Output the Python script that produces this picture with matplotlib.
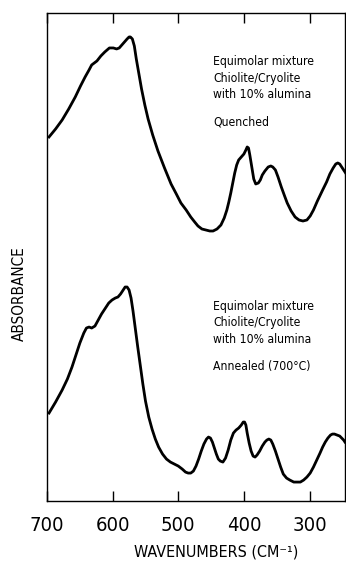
import matplotlib
matplotlib.use("Agg")
import matplotlib.pyplot as plt

plt.rcParams['font.family'] = ['DejaVu Sans']
plt.rcParams['font.stretch'] = 'condensed'

# quenched sample (upper trace), wavenumber in cm-1 vs absorbance (arb. units)
quenched_wn = [697, 687, 677, 667, 657, 649, 642, 636, 632, 628, 624, 618, 612, 605,
               599, 594, 590, 586, 582, 578, 575, 573, 570, 567, 564, 560, 556, 551,
               546, 539, 531, 521, 511, 503, 496, 488, 481, 475, 470, 464, 458, 452,
               447, 441, 435, 430, 426, 423, 420, 417, 414, 411, 408, 404, 400, 397,
               395, 393, 391, 389, 387, 385, 382, 378, 375, 372, 368, 363, 359, 356,
               352, 348, 343, 338, 334, 328, 322, 316, 310, 304, 299, 294, 288, 280,
               274, 269, 264, 260, 257, 254, 251, 248, 245]
quenched_abs = [364, 372, 381, 392, 404, 415, 424, 431, 436, 438, 440, 445, 449, 453,
                453, 452, 453, 456, 459, 462, 464, 464, 462, 455, 442, 427, 412, 396,
                382, 366, 350, 333, 317, 307, 298, 291, 284, 279, 275, 272, 271, 270,
                270, 272, 276, 283, 291, 299, 308, 318, 328, 336, 341, 344, 347, 351,
                354, 353, 346, 338, 330, 322, 317, 318, 321, 326, 330, 334, 335, 334,
                331, 324, 314, 305, 298, 290, 284, 281, 280, 281, 285, 291, 300, 311,
                319, 327, 333, 337, 338, 337, 334, 331, 328]

# annealed sample (lower trace)
annealed_wn = [697, 687, 677, 669, 662, 656, 650, 644, 640, 636, 632, 627, 622, 617,
               612, 606, 601, 596, 592, 588, 584, 581, 578, 575, 572, 569, 566, 562,
               558, 554, 550, 545, 540, 535, 530, 524, 518, 512, 506, 500, 494, 489,
               485, 481, 477, 473, 469, 465, 461, 457, 454, 451, 448, 445, 442, 439,
               436, 432, 428, 424, 420, 416, 412, 408, 404, 401, 399, 397, 395, 392,
               389, 386, 383, 380, 376, 372, 368, 365, 362, 359, 356, 352, 348, 344,
               340, 335, 330, 324, 319, 314, 309, 304, 299, 294, 289, 284, 280, 276,
               272, 268, 265, 262, 258, 254, 251, 248, 246]
annealed_abs = [88, 99, 111, 122, 134, 146, 158, 168, 173, 174, 173, 175, 181, 187,
                192, 198, 201, 203, 204, 207, 211, 214, 214, 211, 203, 190, 175, 155,
                136, 117, 100, 84, 72, 62, 54, 47, 42, 39, 37, 35, 32, 29,
                28, 28, 30, 35, 42, 50, 57, 62, 64, 63, 59, 53, 47, 42,
                40, 39, 43, 51, 61, 68, 71, 73, 76, 79, 79, 76, 68, 58,
                50, 45, 44, 46, 50, 55, 59, 61, 62, 61, 57, 50, 42, 34,
                27, 23, 21, 19, 19, 19, 21, 24, 28, 34, 41, 48, 54, 59,
                63, 66, 67, 67, 66, 65, 63, 61, 59]

xticks = [700, 600, 500, 400, 300]

top_label = ["Equimolar mixture", "Chiolite/Cryolite", "with 10% alumina", "Quenched"]
bottom_label = ["Equimolar mixture", "Chiolite/Cryolite", "with 10% alumina", "Annealed (700°C)"]

fig = plt.figure(figsize=(3.46, 5.63), dpi=100)
ax = fig.add_axes([0.136, 0.110, 0.861, 0.867])

ax.plot(quenched_wn, quenched_abs, color='black', lw=2, solid_joinstyle='round')
ax.plot(annealed_wn, annealed_abs, color='black', lw=2, solid_joinstyle='round')

ax.set_xlim(697, 246)
ax.set_ylim(0, 488)
ax.set_yticks([])
ax.set_xticks(xticks)
ax.tick_params(axis='x', direction='in', length=7, width=1, top=True,
               labelsize=14.5, pad=11)
for s in ax.spines.values():
    s.set_linewidth(1)

ax.set_xlabel("WAVENUMBERS (CM⁻¹)", fontsize=11.5)
ax.xaxis.set_label_coords(0.567, -0.105)
ax.xaxis.label.set_va('center')
fig.text(19 / 346, 1 - 294 / 563, "ABSORBANCE", rotation=90, fontsize=11,
         ha='center', va='center')

for ys, lines in [([0.900, 0.866, 0.832, 0.777], top_label),
                  ([0.398, 0.365, 0.330, 0.275], bottom_label)]:
    for y, t in zip(ys, lines):
        ax.text(0.557, y, t, transform=ax.transAxes, fontsize=8.7,
                ha='left', va='center')

fig.savefig("out.png", dpi=100)
